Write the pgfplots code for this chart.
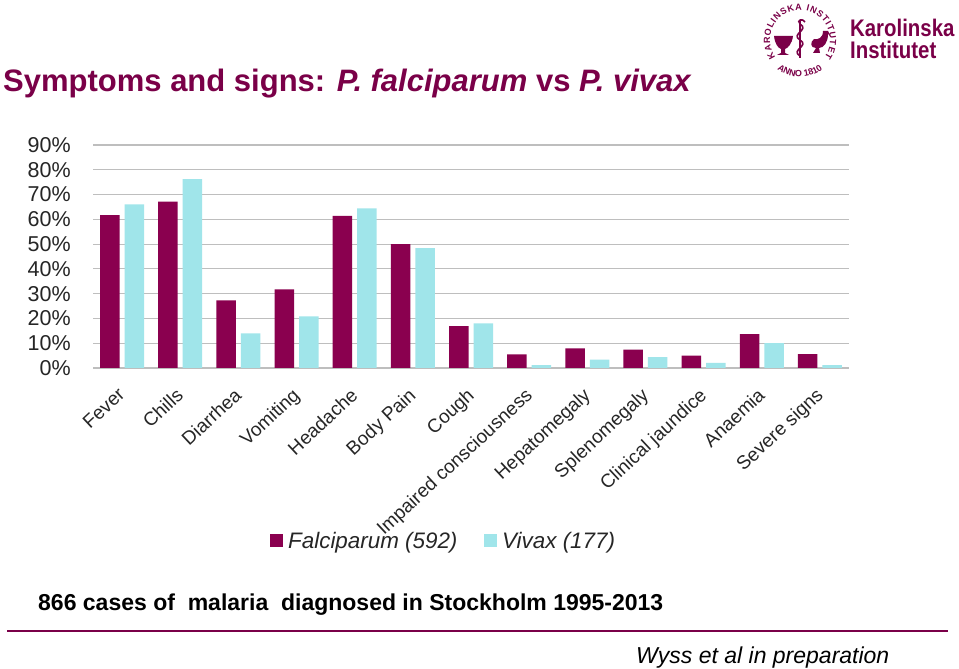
\documentclass[border=0pt]{standalone}
\usepackage{fontspec}
\setmainfont{Liberation Sans}
\usepackage{pgfplots}
\pgfplotsset{compat=1.18}
\usetikzlibrary{decorations.text}
\definecolor{fal}{HTML}{8A004F}
\definecolor{viv}{HTML}{A0E5EA}
\definecolor{ttl}{HTML}{7A0048}
\definecolor{grd}{HTML}{BEBEBE}
\definecolor{txt}{HTML}{262626}
\pgfplotstableread{
x f v
0 61.7 66.0
1 67.1 76.2
2 27.3 14.0
3 31.7 20.8
4 61.4 64.4
5 50.0 48.4
6 16.9 18.0
7 5.5 1.2
8 7.9 3.4
9 7.4 4.4
10 5.0 2.1
11 13.7 10.0
12 5.6 1.2
}\datatable
\newcommand{\fs}[1]{\fontsize{#1}{#1}\selectfont}
\begin{document}
\begin{tikzpicture}[x=1pt,y=1pt]
\path[use as bounding box,fill=white] (0,0) rectangle (959,669);
\begin{axis}[
  at={(93pt,301pt)},anchor=south west,
  scale only axis,width=756pt,height=223pt,
  xmin=-0.5,xmax=12.5,ymin=0,ymax=90,
  axis line style={draw=none},
  axis x line=bottom,axis y line=left,
  tick style={draw=none},
  ymajorgrids,grid style={grd,line width=1.2pt},
  ytick={0,10,...,90},
  yticklabel={\pgfmathprintnumber{\tick}\%},
  yticklabel style={font=\fs{21.5},text=txt,/pgf/number format/assume math mode=true,inner sep=0pt,xshift=-20pt},
  xtick={0,...,12},
  xticklabels={Fever,Chills,Diarrhea,Vomiting,Headache,Body Pain,Cough,Impaired consciousness,Hepatomegaly,Splenomegaly,Clinical jaundice,Anaemia,Severe signs},
  xticklabel style={font=\fs{19},text=txt,rotate=43,anchor=north east,inner sep=0pt,yshift=-6.9pt,xshift=-13.6pt},
  ybar=5pt,bar width=19.5pt,
  clip=false,
]
\addplot[fill=fal,draw=none] table[x=x,y=f]{\datatable};
\addplot[fill=viv,draw=none] table[x=x,y=v]{\datatable};
\end{axis}
% legend
\fill[fal] (270,122) rectangle (283,135);
\node[anchor=base west,inner sep=0,font=\fs{22.4}\itshape,text=txt] at (288,120) {Falciparum (592)};
\fill[viv] (484,122) rectangle (497,135);
\node[anchor=base west,inner sep=0,font=\fs{22.4}\itshape,text=txt] at (502,120) {Vivax (177)};
% title
\node[anchor=base west,inner sep=0,font=\fs{31}\bfseries,text=ttl] at (3,577) {Symptoms and signs: \textit{P. falciparum} vs \textit{P. vivax}};
\node[anchor=base west,inner sep=0,font=\fs{23}\bfseries,text=black] at (38,58) {866 cases of\ \ malaria\ \ diagnosed in Stockholm 1995-2013};
\draw[ttl,line width=1.2pt] (7,38) -- (948,38);
\node[anchor=base west,inner sep=0,font=\fs{23}\itshape,text=black] at (636,5) {Wyss et al in preparation};
% logo
\node[anchor=base west,inner sep=0,xscale=0.85,font=\fs{24}\bfseries,text=ttl] at (850,632) {Karolinska};
\node[anchor=base west,inner sep=0,xscale=0.85,font=\fs{24}\bfseries,text=ttl] at (850,610) {Institutet};
\path[decorate,decoration={text along path,text align=fit to path,text={|\fs{9}\bfseries\color{ttl}|KAROLINSKA INSTITUTET}}]
  ([shift={(215:30)}]800,629) arc[start angle=215,end angle=-35,radius=30];
\path[decorate,decoration={text along path,text align=center,text={|\fs{9}\bfseries\color{ttl}|ANNO 1810}}]
  ([shift={(215:37)}]800,629) arc[start angle=215,end angle=325,radius=37];
\begin{scope}[shift={(2,-3)}]
\draw[ttl,line width=1.8pt] (798,614) -- (798,652);
\draw[ttl,line width=1.6pt] (798,616) .. controls (788,622) and (808,626) .. (798,632) .. controls (788,638) and (808,642) .. (798,648) .. controls (794,652) and (801,654) .. (803,650);
\fill[ttl] (772,636) -- (791,636) .. controls (790,628) and (786,624) .. (783,623) -- (783,619) -- (787,617) -- (775,617) -- (779,619) -- (779,623) .. controls (776,624) and (773,628) .. (772,636) -- cycle;
\fill[ttl] (811,619) -- (818,619) -- (817,624) .. controls (822,624) and (826,630) .. (826,638) -- (829,635) -- (826,641) -- (821,641) .. controls (821,634) and (816,632) .. (812,633) .. controls (808,630) and (808,624) .. (814,624) -- cycle;
\end{scope}
\end{tikzpicture}
\end{document}
